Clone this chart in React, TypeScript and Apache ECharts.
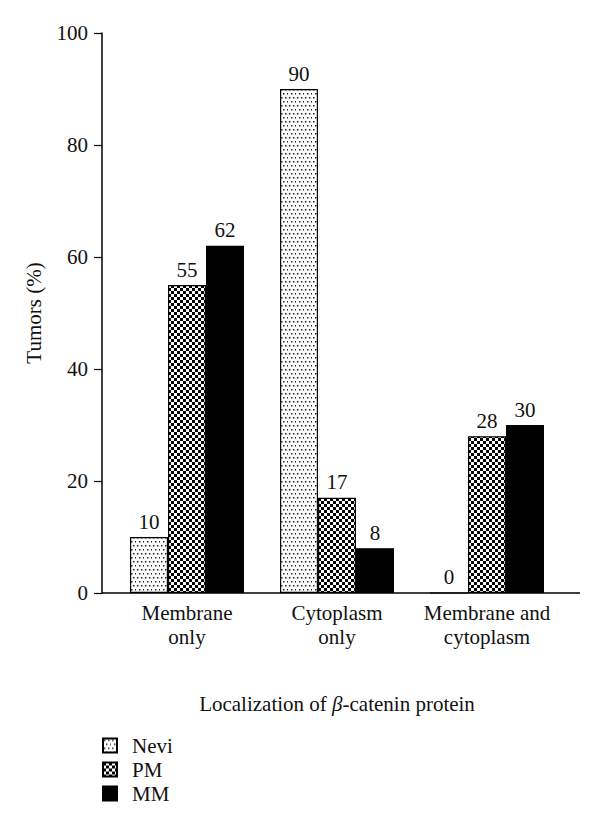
import React, { useEffect, useRef } from "react";
import * as echarts from "echarts";

const categories = ["Membrane\nonly", "Cytoplasm\nonly", "Membrane and\ncytoplasm"];
const seriesNames = ["Nevi", "PM", "MM"];
const neviValues = [10, 90, 0];
const pmValues = [55, 17, 28];
const mmValues = [62, 8, 30];
const yTicks = { min: 0, max: 100, interval: 20 };

const FONT = "'Liberation Serif', 'Times New Roman', serif";
const FS = 21;

function dotPattern(): HTMLCanvasElement {
  const c = document.createElement("canvas");
  c.width = 8;
  c.height = 8;
  const ctx = c.getContext("2d")!;
  ctx.fillStyle = "#ffffff";
  ctx.fillRect(0, 0, 8, 8);
  ctx.fillStyle = "#222222";
  ctx.fillRect(1, 1, 1.5, 1.5);
  ctx.fillRect(5, 1, 1.5, 1.5);
  ctx.fillRect(3, 5, 1.5, 1.5);
  ctx.fillRect(7, 5, 1.5, 1.5);
  return c;
}

function checkerPattern(): HTMLCanvasElement {
  const c = document.createElement("canvas");
  c.width = 6;
  c.height = 6;
  const ctx = c.getContext("2d")!;
  ctx.fillStyle = "#ffffff";
  ctx.fillRect(0, 0, 6, 6);
  ctx.fillStyle = "#000000";
  ctx.fillRect(0, 0, 3, 3);
  ctx.fillRect(3, 3, 3, 3);
  return c;
}

export default function App() {
  const ref = useRef<HTMLDivElement>(null);
  useEffect(() => {
    if (!ref.current) return;
    const chart = echarts.init(ref.current, undefined, { renderer: "svg" });
    const dots = { image: dotPattern(), repeat: "repeat" } as any;
    const checks = { image: checkerPattern(), repeat: "repeat" } as any;
    const label = {
      show: true,
      position: "top" as const,
      distance: 5,
      color: "#111",
      fontFamily: FONT,
      fontSize: FS,
    };
    const mk = (name: string, data: number[], color: any) => ({
      name,
      type: "bar" as const,
      data,
      barGap: "0%",
      barCategoryGap: "24%",
      itemStyle: { color, borderColor: "#000", borderWidth: 1.2 },
      label,
    });
    chart.setOption({
      animation: false,
      backgroundColor: "#ffffff",
      textStyle: { fontFamily: FONT },
      grid: { left: 112, right: 38, top: 33, bottom: 235 },
      legend: {
        orient: "vertical",
        left: 102,
        top: 735,
        padding: 0,
        itemWidth: 14,
        itemHeight: 14,
        itemGap: 3,
        icon: "rect",
        data: seriesNames,
        textStyle: { fontFamily: FONT, fontSize: FS, color: "#111", padding: [0, 0, 0, 10] },
      },
      xAxis: {
        type: "category",
        data: categories,
        axisLine: { show: false },
        axisTick: { show: false },
        axisLabel: {
          color: "#111",
          fontFamily: FONT,
          fontSize: FS,
          lineHeight: 24,
          margin: 8,
          interval: 0,
        },
        name: "{a|Localization of }{b|β}{a|-catenin protein}",
        nameLocation: "middle",
        nameGap: 100,
        nameTextStyle: {
          rich: {
            a: { fontFamily: FONT, fontSize: FS, color: "#111" },
            b: { fontFamily: FONT, fontSize: FS, color: "#111", fontStyle: "italic" },
          },
        },
      },
      yAxis: {
        type: "value",
        min: yTicks.min,
        max: yTicks.max,
        interval: yTicks.interval,
        offset: 10,
        axisLine: { show: true, lineStyle: { color: "#000", width: 1.5 } },
        axisTick: { show: true, length: 8, lineStyle: { color: "#000", width: 1.2 } },
        splitLine: { show: false },
        axisLabel: { color: "#111", fontFamily: FONT, fontSize: FS, margin: 14 },
        name: "Tumors (%)",
        nameLocation: "middle",
        nameRotate: 90,
        nameGap: 58,
        nameTextStyle: { fontFamily: FONT, fontSize: FS, color: "#111" },
      },
      graphic: [
        {
          type: "line",
          shape: { x1: 102, y1: 593, x2: 580, y2: 593 },
          style: { stroke: "#000", lineWidth: 1.5 },
          z: 10,
        },
      ],
      series: [
        mk(seriesNames[0], neviValues, dots),
        mk(seriesNames[1], pmValues, checks),
        mk(seriesNames[2], mmValues, "#000000"),
      ],
    });
    return () => chart.dispose();
  }, []);
  return <div ref={ref} style={{ width: 600, height: 828, position: "absolute", left: 0, top: 0 }} />;
}
